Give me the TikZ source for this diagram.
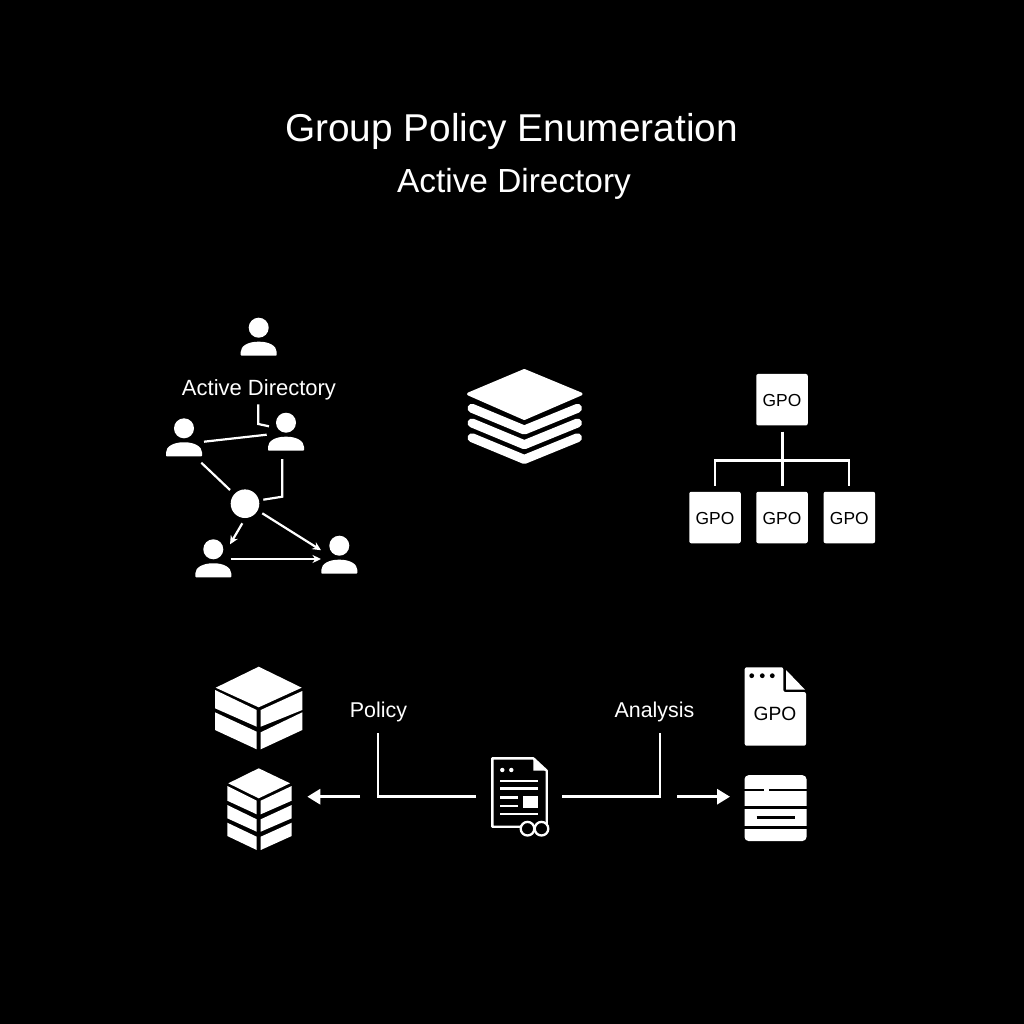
\documentclass[tikz,border=0pt]{standalone}
\usepackage{fontspec}
\setmainfont{Liberation Sans}
\usetikzlibrary{arrows.meta}
\tikzset{
  wire/.style={draw=white,line width=2.2pt,line join=miter},
  wirethick/.style={draw=white,line width=2.8pt,line join=miter},
  linkarrow/.style={draw=white,line width=2.2pt,-{Stealth[length=8.5pt,width=8pt]}},
  flowarrow/.style={draw=white,line width=3pt,-{Triangle[length=13pt,width=15pt]}},
  gpobox/.style={fill=white,rounded corners=2pt,minimum width=51.5pt,minimum height=51.5pt,inner sep=0pt,text=black,text height=14.5pt,text depth=0pt,font=\fontsize{17.4}{17.4}\selectfont},
  label/.style={text=white,inner sep=0pt,anchor=base},
  personicon/.pic={
    \fill[white] (0,0) circle (10);
    \fill[white,rounded corners=0.8pt] (-18,28) -- (-18,25) .. controls (-18,18) and (-10,14) .. (0,14) .. controls (10,14) and (18,18) .. (18,25) -- (18,28) -- cycle;
  },
  chevron/.style={draw=white,line width=9pt,line join=round,line cap=round},
  docline/.style={draw=white,line width=2.4pt},
}
\begin{document}
\begin{tikzpicture}[x=1pt,y=-1pt]
\useasboundingbox (0,0) rectangle (1024,1024);
\fill[black] (0,0) rectangle (1024,1024);

% titles
\node[label,font=\fontsize{38.8}{38.8}\selectfont] (title) at (511.5,142) {Group Policy Enumeration};
\node[label,font=\fontsize{33.4}{33.4}\selectfont] (subtitle) at (514,193) {Active Directory};

% people graph
\pic at (258.7,327.7) {personicon};
\pic at (184,428.3) {personicon};
\pic at (286,422.7) {personicon};
\pic at (213.3,549.3) {personicon};
\pic at (339.3,545.7) {personicon};
\node[fill=white,circle,minimum size=28.6pt,inner sep=0pt] (hub) at (245,503.7) {};
\node[label,font=\fontsize{22}{22}\selectfont] (adlabel) at (259,395) {Active Directory};

\coordinate (la) at (258.3,404.3);
\coordinate (lb) at (258.3,424);
\coordinate (lc) at (269,426.3);
\draw[wire] (la) -- (lb) -- (lc);
\coordinate (pa) at (204,441.7);
\coordinate (pb) at (266.7,434.7);
\draw[wire] (pa) -- (pb);
\coordinate (qa) at (201.3,462.7);
\coordinate (qb) at (230,490);
\draw[wire] (qa) -- (qb);
\coordinate (ra) at (282.3,459);
\coordinate (rb) at (282.3,496.7);
\coordinate (rc) at (263.3,499.7);
\draw[wire] (ra) -- (rb) -- (rc);
\coordinate (sa) at (242.3,523.3);
\coordinate (sb) at (230,544.3);
\draw[linkarrow] (sa) -- (sb);
\coordinate (ta) at (262.3,513.3);
\coordinate (tb) at (321,550.2);
\draw[linkarrow] (ta) -- (tb);
\coordinate (ua) at (230.7,559);
\coordinate (ub) at (321,559);
\draw[linkarrow] (ua) -- (ub);

% stack
\fill[white,draw=white,line width=3pt,line join=round] (524.3,370.5) -- (581,394) -- (524.3,418.5) -- (468.5,394) -- cycle;
\foreach \d in {0,14.7,29.4}{
  \draw[chevron] (472,408.3+\d) -- (524.3,430+\d) -- (577.5,408.3+\d);
}

% GPO tree
\node[gpobox] (g0) at (782,399.7) {GPO};
\node[gpobox] (g1) at (715,517.5) {GPO};
\node[gpobox] (g2) at (782,517.5) {GPO};
\node[gpobox] (g3) at (849.3,517.5) {GPO};
\coordinate (bus) at (782.3,460.7);
\draw[wire,line width=2.5pt] (782.3,431.7) -- (bus) -- (782.3,485.7);
\draw[wire,line width=2.5pt] (715,485.7) -- (715,460.7) -- (849,460.7) -- (849,485.7);

% big cube
\fill[white] (258.7,666.7) -- (301.7,687.7) -- (258.7,707.3) -- (215.7,687.7) -- cycle;
\fill[white] (215,690) -- (256.7,710) -- (256.7,726.7) -- (215,708.3) -- cycle;
\fill[white] (215,712.3) -- (256.7,731.7) -- (256.7,749.3) -- (215,730) -- cycle;
\fill[white] (260.7,710) -- (302.3,691) -- (302.3,710) -- (260.7,726.7) -- cycle;
\fill[white] (260.7,732.3) -- (302.3,712.3) -- (302.3,730) -- (260.7,749.3) -- cycle;

% small cube
\fill[white] (258.7,768.3) -- (290,783.3) -- (258.7,798.3) -- (228.3,783.3) -- cycle;
\fill[white] (227.3,786) -- (256.7,800.7) -- (256.7,814.3) -- (227.3,800.7) -- cycle;
\fill[white] (227.3,805) -- (256.7,819.3) -- (256.7,831.7) -- (227.3,818.3) -- cycle;
\fill[white] (227.3,822.7) -- (256.7,836.7) -- (256.7,850) -- (227.3,836) -- cycle;
\fill[white] (260.7,800.7) -- (291.7,786) -- (291.7,800.7) -- (260.7,814.3) -- cycle;
\fill[white] (260.7,819.3) -- (291.7,805) -- (291.7,818.3) -- (260.7,831.7) -- cycle;
\fill[white] (260.7,836.7) -- (291.7,822.7) -- (291.7,836) -- (260.7,850) -- cycle;

% flow
\coordinate (fa) at (360,796.7);
\coordinate (fb) at (307.3,796.7);
\draw[flowarrow] (fa) -- (fb);
\coordinate (ga) at (677.3,796.7);
\coordinate (gb) at (730,796.7);
\draw[flowarrow] (ga) -- (gb);
\node[label,font=\fontsize{21.4}{21.4}\selectfont] (policy) at (378.5,717) {Policy};
\node[label,font=\fontsize{21.4}{21.4}\selectfont] (analysis) at (654.5,717) {Analysis};
\coordinate (ha) at (476,796.7);
\coordinate (hb) at (378,796.7);
\coordinate (hc) at (378,733);
\draw[wirethick] (ha) -- (hb) -- (hc);
\coordinate (ia) at (562,796.7);
\coordinate (ib) at (660,796.7);
\coordinate (ic) at (660,733);
\draw[wirethick] (ia) -- (ib) -- (ic);

% document
\draw[white,line width=2.4pt,line join=round] (492.3,758.3) -- (533.3,758.3) -- (546.7,770.7) -- (546.7,826.7) -- (492.3,826.7) -- cycle;
\fill[white] (533.3,758.3) -- (533.3,770.7) -- (546.7,770.7) -- cycle;
\fill[white] (502.3,770) circle (2.2) (511.3,770) circle (2.2);
\draw[docline] (500,780.7) -- (538.3,780.7);
\draw[docline] (500,788.3) -- (538.3,788.3);
\draw[docline] (500,797.3) -- (518.3,797.3);
\draw[docline] (500,805.7) -- (518.3,805.7);
\draw[docline] (500,814) -- (538.3,814);
\fill[white] (523.3,796) rectangle (538.3,807.7);
\draw[white,fill=black,line width=2.3pt] (527.5,828.7) circle (6.8);
\draw[white,fill=black,line width=2.3pt] (541.5,828.7) circle (6.8);

% GPO file
\fill[white,rounded corners=2pt] (744.7,667.3) -- (783.3,667.3) -- (783.3,692) -- (806,692) -- (806,745.7) -- (744.7,745.7) -- cycle;
\fill[white] (786,670) -- (786,689.7) -- (805,689.7) -- cycle;
\fill[black] (751.7,675.7) circle (2.4) (762.3,675.7) circle (2.4) (772.3,675.7) circle (2.4);
\node[text=black,inner sep=0pt,anchor=base,font=\fontsize{19.2}{19.2}\selectfont] (filegpo) at (775,720.5) {GPO};

% server block
\fill[white,rounded corners=4pt] (744.5,775.2) rectangle (806.5,841);
\draw[black,line width=2.2pt] (744,789.8) -- (764.3,789.8);
\draw[black,line width=2.2pt] (769.3,789.8) -- (807,789.8);
\draw[black,line width=2.4pt] (744,807.3) -- (807,807.3);
\draw[black,line width=2.4pt] (744,827.5) -- (807,827.5);
\draw[black,line width=3pt] (756.7,817.3) -- (795,817.3);
\end{tikzpicture}
\end{document}
